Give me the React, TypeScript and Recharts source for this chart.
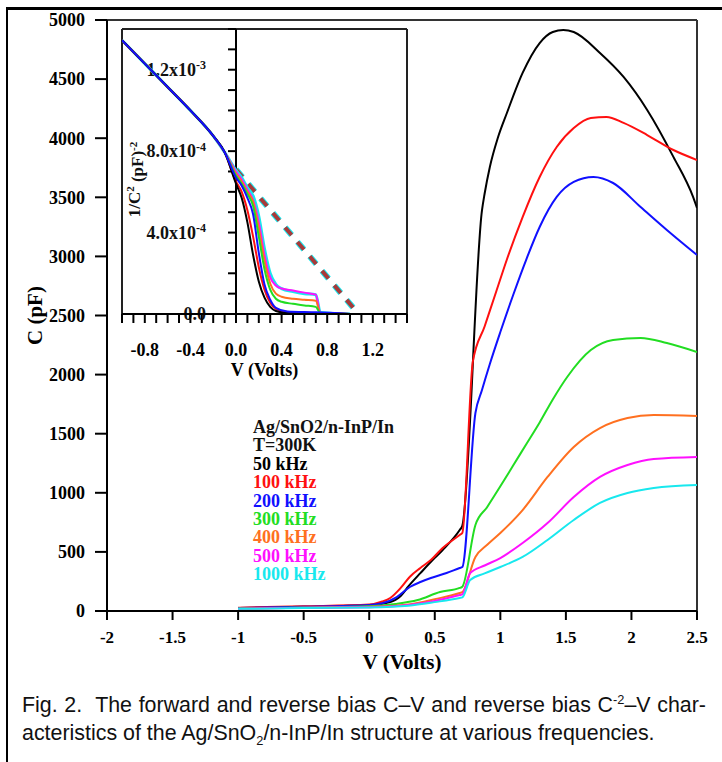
import React from 'react';
import { LineChart, Line, XAxis, YAxis, ReferenceLine, Legend, Label } from 'recharts';

const SERIF = '"Liberation Serif", "Times New Roman", serif';
const SANS = '"Liberation Sans", Arial, sans-serif';

// ---------- series meta ----------
const freqNames = ['50 kHz', '100 kHz', '200 kHz', '300 kHz', '400 kHz', '500 kHz', '1000 kHz'];
const freqColors = ['#000000', '#ff1010', '#1010ff', '#22dd22', '#ff7020', '#ff10ff', '#18e8ee'];
const legendHeader = ['Ag/SnO2/n-InP/In', 'T=300K'];

// ---------- main C-V data (V in volts, C in pF) ----------
const v50 = [-1, -0.5, 0, 0.1, 0.2, 0.24, 0.3, 0.39, 0.5, 0.56, 0.69, 0.71, 0.86, 0.88, 0.92, 0.98, 1.05, 1.17, 1.3, 1.4, 1.48, 1.56, 1.76, 1.94, 2.12, 2.32, 2.47, 2.5];
const c50 = [25, 35, 50, 62, 95, 127, 210, 320, 450, 516, 685, 720, 3390, 3530, 3757, 4000, 4213, 4552, 4805, 4898, 4915, 4898, 4721, 4518, 4239, 3842, 3503, 3410];

const v100 = [-1, -0.5, 0, 0.1, 0.16, 0.24, 0.31, 0.39, 0.47, 0.56, 0.69, 0.71, 0.79, 0.88, 0.97, 1.05, 1.17, 1.3, 1.43, 1.56, 1.69, 1.81, 1.94, 2.12, 2.32, 2.5];
const c100 = [28, 40, 55, 80, 110, 195, 290, 364, 431, 533, 643, 660, 2107, 2407, 2707, 2974, 3333, 3672, 3926, 4086, 4171, 4180, 4129, 4027, 3900, 3816];

const v200 = [-1, -0.5, 0, 0.1, 0.21, 0.31, 0.39, 0.47, 0.59, 0.69, 0.71, 0.81, 0.86, 0.92, 1.0, 1.1, 1.2, 1.3, 1.43, 1.56, 1.71, 1.86, 2.07, 2.27, 2.5];
const c200 = [25, 35, 50, 65, 118, 203, 245, 279, 321, 364, 372, 1675, 1870, 2090, 2360, 2680, 2980, 3249, 3503, 3630, 3672, 3621, 3418, 3224, 3012];

const v300 = [-1, -0.5, 0, 0.2, 0.37, 0.54, 0.69, 0.71, 0.81, 0.9, 1.0, 1.1, 1.2, 1.3, 1.4, 1.51, 1.69, 1.86, 2.07, 2.27, 2.5];
const c300 = [22, 30, 40, 60, 93, 160, 195, 205, 728, 880, 1055, 1235, 1415, 1595, 1790, 1980, 2208, 2293, 2310, 2267, 2191];

const v400 = [-1, -0.5, 0, 0.3, 0.5, 0.69, 0.71, 0.81, 0.9, 1.0, 1.17, 1.36, 1.56, 1.76, 1.97, 2.17, 2.5];
const c400 = [20, 28, 35, 55, 100, 152, 160, 457, 560, 660, 854, 1134, 1388, 1548, 1633, 1658, 1650];

const v500 = [-1, -0.5, 0, 0.3, 0.5, 0.69, 0.71, 0.77, 0.88, 1.0, 1.17, 1.36, 1.56, 1.76, 1.97, 2.17, 2.5];
const c500 = [20, 27, 32, 50, 85, 135, 140, 321, 385, 448, 575, 744, 964, 1134, 1235, 1286, 1303];

const v1000 = [-1, -0.5, 0, 0.3, 0.5, 0.69, 0.71, 0.77, 0.88, 1.0, 1.17, 1.36, 1.56, 1.76, 1.97, 2.17, 2.5];
const c1000 = [18, 25, 30, 45, 75, 110, 115, 262, 318, 372, 457, 601, 770, 914, 998, 1040, 1066];

const mainXTicks = [-2, -1.5, -1, -0.5, 0, 0.5, 1, 1.5, 2, 2.5];
const mainYTicks = [0, 500, 1000, 1500, 2000, 2500, 3000, 3500, 4000, 4500, 5000];

// ---------- inset 1/C^2 data (units of 1e-4 pF^-2) ----------
const irevV = [-1, -0.8, -0.6, -0.4, -0.2, -0.1];
const irevY = [13.45, 12.3, 11.15, 10.0, 8.75, 7.95];

const ifwdA = [0, 0.05, 0.1, 0.15, 0.2, 0.25, 0.3, 0.35, 0.45, 0.7, 1.0];
const i50 = [6.4, 5.7, 4.5, 2.9, 1.6, 0.8, 0.35, 0.15, 0.05, 0.02, 0];
const i100 = [6.5, 6.0, 5.1, 3.8, 2.3, 1.2, 0.55, 0.25, 0.1, 0.05, 0];
const i200 = [6.7, 6.3, 5.7, 4.9, 3.0, 1.45, 0.7, 0.3, 0.12, 0.08, 0];

const ifwdB = [0, 0.05, 0.1, 0.15, 0.2, 0.25, 0.3, 0.35, 0.4, 0.5, 0.6, 0.7, 0.74, 1.0];
const i300 = [6.8, 6.4, 5.9, 5.3, 3.8, 2.2, 1.2, 0.75, 0.6, 0.5, 0.42, 0.35, 0.05, 0];
const i400 = [6.9, 6.5, 6.0, 5.5, 4.2, 2.6, 1.5, 1.0, 0.85, 0.75, 0.7, 0.65, 0.05, 0];
const i500 = [7.0, 6.6, 6.1, 5.6, 4.5, 2.9, 1.8, 1.4, 1.25, 1.15, 1.05, 0.95, 0.05, 0];
const i1000 = [7.05, 6.7, 6.2, 5.8, 4.8, 3.2, 2.0, 1.45, 1.25, 1.1, 1.0, 0.95, 0.08, 0];

const dashV = [0, 1.06];
const dashY = [7.1, 0.1];

const insetXTicks = [-1, -0.9, -0.8, -0.7, -0.6, -0.5, -0.4, -0.3, -0.2, -0.1, 0, 0.1, 0.2, 0.3, 0.4, 0.5, 0.6, 0.7, 0.8, 0.9, 1, 1.1, 1.2, 1.3, 1.4, 1.5];
const insetXLabeled = [-0.8, -0.4, 0, 0.4, 0.8, 1.2];
const insetYTicks = [0, 1, 2, 3, 4, 5, 6, 7, 8, 9, 10, 11, 12, 13, 14];
const insetYLabelVals = [0, 4, 8, 12];
const insetYLabelBase = ['0.0', '4.0x10', '8.0x10', '1.2x10'];
const insetYLabelSup = ['', '-4', '-4', '-3'];

// ---------- build ----------
const toPts = (xs: number[], ys: number[]) => xs.map((x, i) => ({ v: x, c: ys[i] }));

const mainSeries = [
  toPts(v50, c50),
  toPts(v100, c100),
  toPts(v200, c200),
  toPts(v300, c300),
  toPts(v400, c400),
  toPts(v500, c500),
  toPts(v1000, c1000),
];

const insetSeries = [
  toPts([...irevV, ...ifwdA], [...irevY, ...i50]),
  toPts([...irevV, ...ifwdA], [...irevY, ...i100]),
  toPts([...irevV, ...ifwdA], [...irevY, ...i200]),
  toPts([...irevV, ...ifwdB], [...irevY, ...i300]),
  toPts([...irevV, ...ifwdB], [...irevY, ...i400]),
  toPts([...irevV, ...ifwdB], [...irevY, ...i500]),
  toPts([...irevV, ...ifwdB], [...irevY, ...i1000]),
];
const insetDrawOrder = [6, 5, 4, 3, 1, 0, 2];
const dashData = toPts(dashV, dashY);

const boldSerif = (size: number) => ({ fontFamily: SERIF, fontWeight: 'bold' as const, fontSize: size, fill: '#000' });

const renderLegend = (props: any) => {
  const payload = [...(props.payload || [])].sort(
    (a: any, b: any) => freqNames.indexOf(a.value) - freqNames.indexOf(b.value)
  );
  return (
    <div style={{ fontFamily: SERIF, fontWeight: 'bold', fontSize: 18, lineHeight: '18.4px', whiteSpace: 'nowrap', textAlign: 'left', color: '#111' }}>
      {legendHeader.map((h) => (
        <div key={h}>{h}</div>
      ))}
      {payload.map((p: any) => (
        <div key={p.value} style={{ color: p.color }}>{p.value}</div>
      ))}
    </div>
  );
};

const InsetYLabel = (props: any) => {
  const vb = props.viewBox || {};
  const x = vb.x - 22;
  const y = vb.y + (vb.height || 0) / 2;
  return (
    <text x={x} y={y} dy="0.35em" textAnchor="end" style={{ fontFamily: SERIF, fontWeight: 'bold', fontSize: 18 }} fill="#111">
      {props.base}
      {props.sup ? (
        <tspan dy="-0.55em" fontSize={12}>{props.sup}</tspan>
      ) : null}
    </text>
  );
};

const InsetYTitle = (props: any) => {
  const vb = props.viewBox || {};
  const x = vb.x + 12;
  const y = vb.y + (vb.height || 0) / 2 + 8;
  return (
    <text x={x} y={y} textAnchor="middle" dy="0.35em" transform={`rotate(-90, ${x}, ${y})`} style={{ fontFamily: SERIF, fontWeight: 'bold', fontSize: 17 }} fill="#111">
      1/C
      <tspan dy="-0.5em" fontSize={11}>2</tspan>
      <tspan dy="0.5em"> (pF)</tspan>
      <tspan dy="-0.5em" fontSize={11}>-2</tspan>
    </text>
  );
};

export default function App() {
  return (
    <div style={{ position: 'absolute', left: 0, top: 0, width: 722, height: 762, background: '#fff', overflow: 'hidden' }}>
      {/* figure frame */}
      <div style={{ position: 'absolute', left: 6, top: 7, width: 716, height: 3, background: '#000' }} />
      <div style={{ position: 'absolute', left: 6, top: 7, width: 2, height: 755, background: '#000' }} />

      {/* main chart */}
      <div style={{ position: 'absolute', left: 0, top: 0 }}>
        <LineChart width={722} height={680} margin={{ top: 20, right: 25, bottom: 10, left: 17 }}>
          <XAxis
            type="number"
            dataKey="v"
            domain={[-2, 2.5]}
            ticks={mainXTicks}
            interval={0}
            allowDataOverflow
            height={59}
            tickSize={9}
            tickMargin={11}
            axisLine={{ stroke: '#000', strokeWidth: 2 }}
            tickLine={{ stroke: '#000', strokeWidth: 2 }}
            tick={boldSerif(17)}
          >
            <Label value="V (Volts)" position="insideBottom" offset={1} style={boldSerif(21)} />
          </XAxis>
          <YAxis
            type="number"
            domain={[0, 5000]}
            ticks={mainYTicks}
            interval={0}
            width={90}
            tickSize={12}
            tickMargin={10}
            axisLine={{ stroke: '#000', strokeWidth: 2 }}
            tickLine={{ stroke: '#000', strokeWidth: 2 }}
            tick={boldSerif(18)}
          >
            <Label value="C (pF)" angle={-90} position="insideLeft" offset={18} style={{ ...boldSerif(21), textAnchor: 'middle' }} />
          </YAxis>
          <ReferenceLine y={5000} stroke="#333" strokeWidth={2} />
          <ReferenceLine x={2.5} stroke="#333" strokeWidth={2} />
          {mainSeries.map((d, i) => (
            <Line
              key={freqNames[i]}
              data={d}
              dataKey="c"
              name={freqNames[i]}
              type="monotone"
              stroke={freqColors[i]}
              strokeWidth={2}
              dot={false}
              activeDot={false}
              isAnimationActive={false}
            />
          ))}
          <Legend
            layout="vertical"
            align="center"
            verticalAlign="middle"
            content={renderLegend}
            wrapperStyle={{ left: 253, top: 418, width: 200, height: 'auto' }}
          />
        </LineChart>
      </div>

      {/* inset chart */}
      <div style={{ position: 'absolute', left: 100, top: 0 }}>
        <LineChart width={320} height={390} margin={{ top: 29, right: 13, bottom: 10, left: 22 }}>
          <XAxis
            type="number"
            dataKey="v"
            domain={[-1, 1.5]}
            ticks={insetXTicks}
            interval={0}
            allowDataOverflow
            height={66}
            tickSize={9}
            tickMargin={20}
            tickFormatter={(v: number) => (insetXLabeled.includes(v) ? v.toFixed(1) : '')}
            axisLine={{ stroke: '#000', strokeWidth: 2 }}
            tickLine={{ stroke: '#000', strokeWidth: 2 }}
            tick={boldSerif(18)}
          >
            <Label value="V (Volts)" position="insideBottom" offset={4} style={boldSerif(18)} />
          </XAxis>
          <YAxis type="number" domain={[0, 14]} hide allowDataOverflow />
          <ReferenceLine x={-1} stroke="#222" strokeWidth={2} label={<InsetYTitle />} />
          <ReferenceLine x={1.5} stroke="#222" strokeWidth={2} />
          <ReferenceLine y={14} stroke="#222" strokeWidth={2} />
          <ReferenceLine x={0} stroke="#000" strokeWidth={2} />
          {insetYTicks.map((t) => {
            const li = insetYLabelVals.indexOf(t);
            return (
              <ReferenceLine
                key={`yt${t}`}
                segment={[{ x: -0.07, y: t }, { x: 0, y: t }]}
                stroke="#000"
                strokeWidth={2}
                label={li >= 0 ? <InsetYLabel base={insetYLabelBase[li]} sup={insetYLabelSup[li]} /> : undefined}
              />
            );
          })}
          <Line data={dashData} dataKey="c" type="linear" stroke="#18e8ee" strokeWidth={6} strokeDasharray="10 9" dot={false} activeDot={false} isAnimationActive={false} legendType="none" />
          <Line data={dashData} dataKey="c" type="linear" stroke="#a83a3a" strokeWidth={4} strokeDasharray="10 9" dot={false} activeDot={false} isAnimationActive={false} legendType="none" />
          {insetDrawOrder.map((i) => (
            <Line
              key={`in${i}`}
              data={insetSeries[i]}
              dataKey="c"
              type="monotone"
              stroke={freqColors[i]}
              strokeWidth={i === 6 ? 3 : 2}
              dot={false}
              activeDot={false}
              isAnimationActive={false}
            />
          ))}
        </LineChart>
      </div>

      {/* caption */}
      <div style={{ position: 'absolute', left: 22, top: 691, width: 684, fontFamily: SANS, fontSize: 21.4, lineHeight: '28px', color: '#111' }}>
        <div style={{ textAlign: 'justify', textAlignLast: 'justify', whiteSpace: 'nowrap' }}>
          Fig. 2.&nbsp; The forward and reverse bias C–V and reverse bias C
          <sup style={{ fontSize: '0.6em', lineHeight: 0 }}>-2</sup>–V char-
        </div>
        <div style={{ whiteSpace: 'nowrap' }}>
          acteristics of the Ag/SnO<sub style={{ fontSize: '0.6em', lineHeight: 0 }}>2</sub>/n-InP/In structure at various frequencies.
        </div>
      </div>
    </div>
  );
}
